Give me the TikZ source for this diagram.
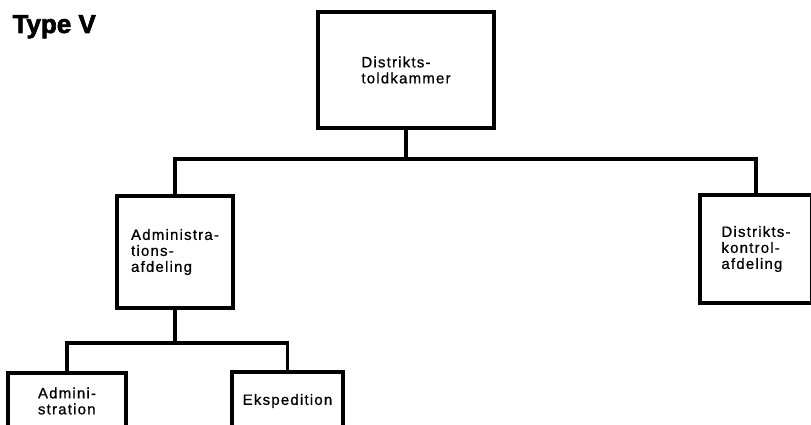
\documentclass[tikz,border=0pt]{standalone}
\usepackage{fontspec}
\setmainfont{Liberation Sans}
\newfontfamily\boxfont{Liberation Sans}[LetterSpace=8,FakeBold=0.8]
\newfontfamily\titlefont{Liberation Sans}[BoldFeatures={FakeBold=2.5}]
\begin{document}
\begin{tikzpicture}[x=1pt,y=-1pt,
  unit/.style={draw=black, line width=3.2pt, align=left, inner sep=0pt,
    font=\boxfont\fontsize{15}{16}\selectfont},
  conn/.style={line width=3.2pt, line cap=rect}]
\useasboundingbox (0,0) rectangle (811,425);
\node[anchor=base west, font=\titlefont\bfseries\fontsize{26}{28}\selectfont] (title) at (9,33) {Type V};
\node[unit, minimum width=176pt, minimum height=116pt] (top) at (406,70) {Distrikts-\\toldkammer};
\node[unit, minimum width=116pt, minimum height=112pt] (adm) at (175,252) {Administra-\\tions-\\afdeling};
\node[unit, minimum width=112pt, minimum height=108pt] (dist) at (756,249) {Distrikts-\\kontrol-\\afdeling};
\node[unit, minimum width=118pt, minimum height=56pt] (admin) at (67,401) {Admini-\\stration};
\node[unit, minimum width=111pt, minimum height=58pt] (eksp) at (287.5,401) {Ekspedition};
\coordinate (j1) at (406,159);
\coordinate (j2) at (175,343);
\draw[conn] (top.south) -- (j1);
\draw[conn] (adm.north) |- (j1) -| (dist.north);
\draw[conn] (adm.south) -- (j2);
\draw[conn] (admin.north) |- (j2) -| (eksp.north);
\end{tikzpicture}
\end{document}
